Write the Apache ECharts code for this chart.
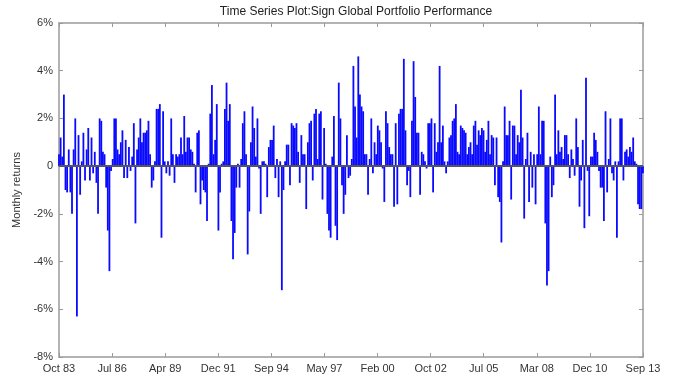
<!DOCTYPE html>
<html>
<head>
<meta charset="utf-8">
<script src="https://cdn.jsdelivr.net/npm/echarts@6/dist/echarts.min.js"></script>
<style>
  html, body { margin: 0; padding: 0; background: #fff; }
  #chart { width: 673px; height: 390px; }
</style>
</head>
<body>
<div id="chart"></div>
<script>
// monthly returns in %, Oct 83 .. Sep 13 (360 months)
const returns1983 = [
  0.5, 1.2, 0.4, 3.0, -1.0, -1.1, 0.7, -1.1, -2.0, 0.7,
  2.0, -6.3, 1.3, -1.2, 0.2, 1.4, -0.6, 0.7, 1.6, -0.6,
  1.2, -0.3, 0.6, -0.7, -2.0, 2.0, 1.9, 0.6, 0.5, -0.9,
  -2.7, -4.4, -0.2, 0.3, 2.0, 2.0, 0.7, 0.5, 1.0, 1.5,
  -0.5, 1.1, -0.5, 0.8, -0.2, 0.4, 1.8, -2.4, 0.7, 1.2,
  2.0, 1.0, 1.4, 1.4, 1.5, 1.9, 0.5, -0.9, -0.6, 0.2,
  2.4, 2.4, 2.6, -3.0, 2.3, 0.2, -0.3, 0.2, -0.4, 2.0,
  0.5, -0.7
]
const returns1989 = [
  0.5, 0.4, 0.5, 1.2, 0.5, 2.1, 0.6, 1.2, 1.2, 0.7,
  0.6, 0.1, -1.1, 1.4, 1.5, -1.6, -0.6, -1.0, -1.1, -2.3,
  0.1, 2.2, 3.4, 0.5, 1.1, 2.6, -2.7, -1.1, 0.1, 0.2,
  2.4, 3.5, 1.9, 2.6, -2.3, -3.9, -2.8, -0.9, 0.1, -0.9,
  0.3, 1.8, 2.3, 0.5, -3.7, -1.9, 1.0, 2.5, 1.6, 0.4,
  2.0, -0.1, -2.0, 0.2, 0.2, 0.1, -1.3, 0.8, 1.1, 1.1,
  1.7, -0.5, 0.3, -1.3, 0.2, -5.2, -1.0, 0.2, 0.9, 0.9,
  -0.8, 1.8
]
const returns1995 = [
  1.7, 1.6, 1.8, 0.6, -0.7, 1.3, 0.5, 0.5, -1.8, 1.0,
  1.8, 1.9, -0.6, 2.2, 2.4, 0.3, 2.2, 2.3, -1.4, 1.6,
  0.1, -2.0, -2.7, -3.0, 0.4, 2.1, -2.5, -3.1, 3.5, 2.0,
  -0.8, -2.0, -1.2, 1.3, -0.5, -0.4, 0.3, 4.2, 2.5, 1.2,
  4.6, 3.0, 2.5, 2.3, 0.5, 0.5, -1.2, 0.3, 2.0, -0.3,
  1.0, 0.5, 1.7, 1.5, 1.0, -0.1, -1.5, 2.3, 1.8, 0.8,
  0.5, 0.5, -1.7, 1.8, -1.6, 2.2, 2.4, 2.4, 4.5, 1.5,
  -0.8, -0.2
]
const returns2001 = [
  -1.3, 1.9, 4.4, 2.9, 1.4, 1.4, -1.2, 0.6, 0.5, 0.2,
  -0.1, 1.8, 1.8, 2.0, -1.1, 1.8, 0.6, 1.0, 4.2, 1.0,
  1.7, 0.2, -0.3, 0.2, 1.2, 1.3, 1.9, 2.0, 2.6, 0.6,
  0.5, 1.7, 1.6, 1.5, 1.4, 0.5, 0.8, 1.0, 0.5, 1.7,
  1.9, 0.9, 1.5, 1.3, 1.6, 1.5, 0.6, 1.1, 1.9, 0.5,
  1.3, 1.2, -0.8, 1.2, -1.3, -1.5, -3.2, 0.2, 2.5, 1.3,
  1.3, 1.9, -1.4, 1.7, 1.7, 0.5, 1.3, 1.0, 3.2, 1.2,
  -2.2, 0.3
]
const returns2007 = [
  1.4, -1.5, 0.6, -0.9, 0.5, -1.6, 0.5, 2.5, 0.5, 1.9,
  1.9, -2.4, -5.0, -4.4, 0.4, -1.3, -0.8, 3.0, 0.5, 1.5,
  0.6, 0.8, 0.3, 1.3, 1.3, 0.5, -0.5, 0.7, 0.3, -0.4,
  2.0, 0.8, -1.7, -0.6, 1.1, -2.6, 3.7, -0.2, -2.1, 0.4,
  0.4, 1.4, 1.1, 0.6, -0.2, -0.9, -0.9, -2.3, 2.3, -1.1,
  0.3, 2.0, -0.3, -0.6, 0.2, -3.0, 0.2, 2.0, 2.0, -0.6,
  0.6, 0.7, 0.4, 0.8, 0.6, 1.2, 0.2, 0.1, -1.6, -1.8,
  -1.8, -0.3
]
const tickLabels = ['Oct 83', 'Jul 86', 'Apr 89', 'Dec 91', 'Sep 94', 'May 97',
  'Feb 00', 'Oct 02', 'Jul 05', 'Mar 08', 'Dec 10', 'Sep 13']

const returns = [].concat(returns1983, returns1989, returns1995, returns2001, returns2007)
const step = 32.64

var chart = echarts.init(document.getElementById('chart'))
var axisGray = '#9a9a9a'
var font = 'Liberation Sans, Arial, sans-serif'

var boxAxis = {
  axisLine: { show: true, onZero: false, lineStyle: { color: axisGray, width: 1.5 } },
  axisTick: { show: true, inside: true, length: 4, lineStyle: { color: axisGray } },
  splitLine: { show: false }
}

var option = {
  animation: false,
  title: {
    text: 'Time Series Plot:Sign Global Portfolio Performance',
    left: 351,
    top: 1,
    textAlign: 'center',
    textStyle: { fontFamily: font, fontSize: 12, fontWeight: 'normal', color: '#222' }
  },
  grid: { left: 59, right: 30, top: 23, bottom: 33 },
  xAxis: [
    Object.assign({
      type: 'value', min: 0, max: step * 11, interval: step,
      axisLabel: {
        fontFamily: font, fontSize: 11, color: '#333', margin: 6,
        formatter: v => tickLabels[Math.round(v / step)] || ''
      }
    }, boxAxis),
    Object.assign({
      type: 'value', position: 'top', min: 0, max: step * 11, interval: step,
      axisLabel: { show: false }
    }, boxAxis)
  ],
  yAxis: [
    Object.assign({
      type: 'value', min: -8, max: 6, interval: 2,
      name: 'Monthly returns',
      nameLocation: 'middle',
      nameGap: 37,
      nameTextStyle: { fontFamily: font, fontSize: 11, color: '#333' },
      axisLabel: {
        fontFamily: font, fontSize: 11, color: '#333', margin: 6,
        formatter: v => v === 0 ? '0' : v + '%'
      }
    }, boxAxis),
    Object.assign({
      type: 'value', position: 'right', min: -8, max: 6, interval: 2,
      axisLabel: { show: false }
    }, boxAxis)
  ],
  series: [
    {
      type: 'bar',
      xAxisIndex: 0,
      yAxisIndex: 0,
      barWidth: 1.8,
      itemStyle: { color: '#0a0aff' },
      data: returns.map((v, i) => [i, v]),
      markLine: {
        silent: true,
        symbol: 'none',
        label: { show: false },
        lineStyle: { color: '#555', width: 2, type: 'solid' },
        data: [{ yAxis: 0 }]
      }
    }
  ]
}
chart.setOption(option)
</script>
</body>
</html>
